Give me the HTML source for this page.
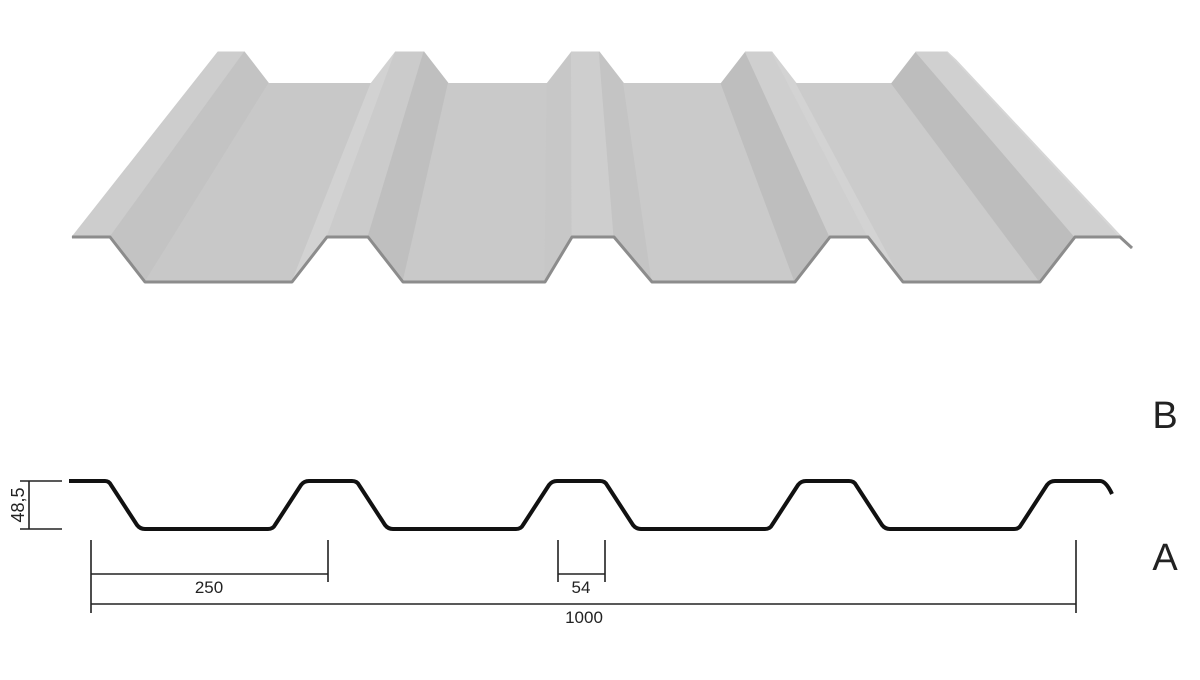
<!DOCTYPE html>
<html><head><meta charset="utf-8"><style>
html,body{margin:0;padding:0;background:#fff;}
svg{display:block;}
text{font-family:"Liberation Sans",Arial,sans-serif;fill:#222;}
</style></head><body>
<svg width="1200" height="680" viewBox="0 0 1200 680" xmlns="http://www.w3.org/2000/svg">
<g stroke-linejoin="round" stroke-width="1">
<!-- left flange & rib -->
<polygon points="72,237 110,237 244.4,52 217.9,52" fill="#cdcdcd" stroke="#cdcdcd"/>
<polygon points="110,237 145,282 268.7,83.5 244.4,52" fill="#c3c3c3" stroke="#c3c3c3"/>
<polygon points="145,282 292,282 371,83.5 268.7,83.5" fill="#c8c8c8" stroke="#c8c8c8"/>
<polygon points="292,282 327,237 395.4,52 371,83.5" fill="#d2d2d2" stroke="#d2d2d2"/>
<polygon points="327,237 368,237 423.9,52 395.4,52" fill="#cbcbcb" stroke="#cbcbcb"/>
<polygon points="368,237 403,282 448.3,83.5 423.9,52" fill="#bfbfbf" stroke="#bfbfbf"/>
<polygon points="403,282 545,282 547.1,83.5 448.3,83.5" fill="#c9c9c9" stroke="#c9c9c9"/>
<polygon points="545,282 572,237 571.5,52 547.1,83.5" fill="#c7c7c7" stroke="#c7c7c7"/>
<polygon points="572,237 614,237 599.3,52 571.5,52" fill="#cecece" stroke="#cecece"/>
<polygon points="614,237 652,282 623.7,83.5 599.3,52" fill="#c4c4c4" stroke="#c4c4c4"/>
<polygon points="652,282 795,282 721.1,83.5 623.7,83.5" fill="#cacaca" stroke="#cacaca"/>
<polygon points="795,282 830,237 745.5,52 721.1,83.5" fill="#bebebe" stroke="#bebebe"/>
<polygon points="830,237 868,237 771.9,52 745.5,52" fill="#cfcfcf" stroke="#cfcfcf"/>
<polygon points="868,237 903,282 796.3,83.5 771.9,52" fill="#d3d3d3" stroke="#d3d3d3"/>
<polygon points="903,282 1040,282 891.6,83.5 796.3,83.5" fill="#cbcbcb" stroke="#cbcbcb"/>
<polygon points="1040,282 1075,237 916,52 891.6,83.5" fill="#bdbdbd" stroke="#bdbdbd"/>
<polygon points="1075,237 1120,237 947.3,52 916,52" fill="#d0d0d0" stroke="#d0d0d0"/>
<polygon points="1120,237 1132,248 955.7,59.7 947.3,52" fill="#d6d6d6" stroke="#d6d6d6"/>
</g>
<!-- front edge -->
<polyline points="72,237 110,237 145,282 292,282 327,237 368,237 403,282 545,282 572,237 614,237 652,282 795,282 830,237 868,237 903,282 1040,282 1075,237 1120,237 1132,248" fill="none" stroke="#8c8c8c" stroke-width="3" stroke-linejoin="round"/>

<!-- profile A -->
<path d="M69,481 L105,481 Q109,481 111,485 L137,525 Q140,529 145,529 L268,529 Q273,529 275,525 L301,485 Q304,481 309,481 L352,481 Q357,481 359,485 L385,525 Q388,529 393,529 L516,529 Q521,529 523,525 L549,485 Q552,481 557,481 L600,481 Q605,481 607,485 L633,525 Q636,529 641,529 L765,529 Q770,529 772,525 L798,485 Q801,481 806,481 L849,481 Q854,481 856,485 L882,525 Q885,529 890,529 L1014,529 Q1019,529 1021,525 L1047,485 Q1050,481 1055,481 L1100,481 Q1106,481 1112,494" fill="none" stroke="#111" stroke-width="4" stroke-linejoin="round"/>

<g stroke="#222" stroke-width="1.6" fill="none">
<line x1="20" y1="481" x2="62" y2="481"/>
<line x1="20" y1="529" x2="62" y2="529"/>
<line x1="29" y1="481" x2="29" y2="529"/>
<line x1="91" y1="540" x2="91" y2="613"/>
<line x1="328" y1="540" x2="328" y2="582"/>
<line x1="91" y1="574" x2="328" y2="574"/>
<line x1="558" y1="540" x2="558" y2="582"/>
<line x1="605" y1="540" x2="605" y2="582"/>
<line x1="558" y1="574" x2="605" y2="574"/>
<line x1="91" y1="604" x2="1076" y2="604"/>
<line x1="1076" y1="540" x2="1076" y2="613"/>
</g>
<text x="0" y="0" font-size="18" text-anchor="middle" transform="translate(24,505) rotate(-90)">48,5</text>
<text x="209" y="593" font-size="17" text-anchor="middle">250</text>
<text x="581" y="593" font-size="17" text-anchor="middle">54</text>
<text x="584" y="623" font-size="17" text-anchor="middle">1000</text>
<text x="1165" y="428" font-size="38" text-anchor="middle">B</text>
<text x="1165" y="570" font-size="38" text-anchor="middle">A</text>
</svg>
</body></html>
